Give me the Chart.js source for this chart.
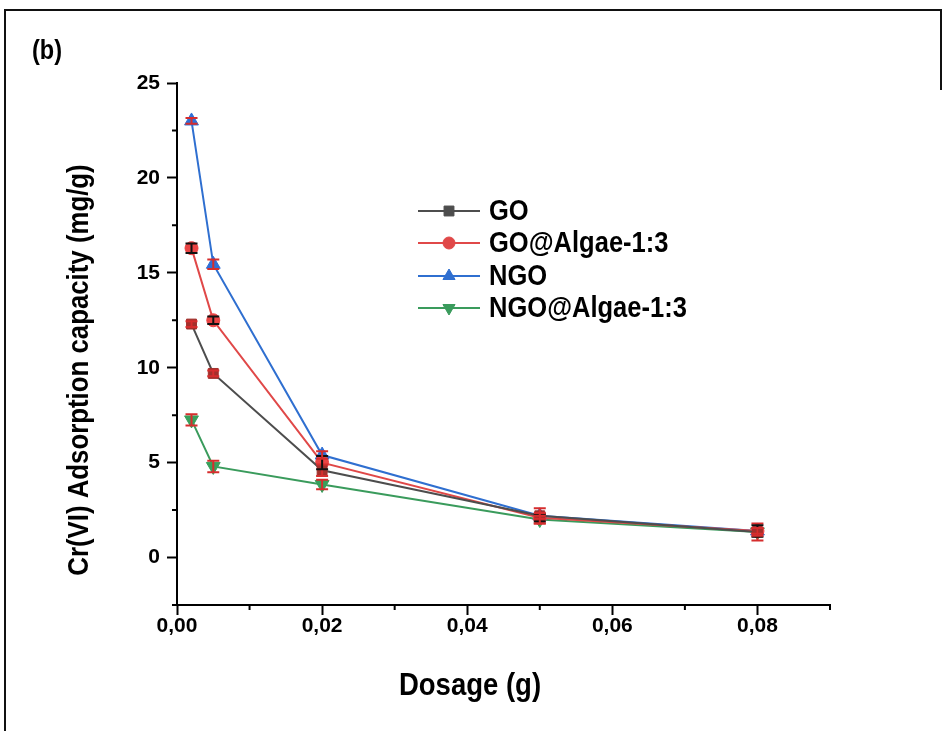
<!DOCTYPE html>
<html>
<head>
<meta charset="utf-8">
<title>Cr(VI) adsorption vs dosage</title>
<script src="https://cdn.jsdelivr.net/npm/chart.js@4.4.1/dist/chart.umd.min.js"></script>
<style>
  html, body { margin: 0; padding: 0; background: #fff; }
  #wrap { width: 947px; height: 731px; }
</style>
</head>
<body>
<div id="wrap"><canvas id="myChart" width="947" height="731"></canvas></div>
<script>
// adsorbent dosage (g)
const dosage = [0.002, 0.005, 0.02, 0.05, 0.08];

// adsorption capacity (mg/g) and error bars per sample
const goValues = [12.3, 9.7, 4.6, 2.2, 1.35];
const goErrors = [0.15, 0.15, 0.3, 0.4, 0.45];
const goAlgaeValues = [16.3, 12.5, 5.0, 2.1, 1.4];
const goAlgaeErrors = [0.25, 0.2, 0.35, 0.2, 0.3];
const ngoValues = [23.0, 15.45, 5.4, 2.2, 1.4];
const ngoErrors = [0.15, 0.25, 0.2, 0.15, 0.15];
const ngoAlgaeValues = [7.25, 4.8, 3.85, 2.0, 1.35];
const ngoAlgaeErrors = [0.3, 0.3, 0.25, 0.2, 0.2];

const seriesNames = ['GO', 'GO@Algae-1:3', 'NGO', 'NGO@Algae-1:3'];
const xTicks = [0, 0.01, 0.02, 0.03, 0.04, 0.05, 0.06, 0.07, 0.08, 0.09];
const yTicks = [-2.5, 0, 2.5, 5, 7.5, 10, 12.5, 15, 17.5, 20, 22.5, 25];

const FONT = "'Liberation Sans', Arial, sans-serif";

function toPoints(values) {
    return dosage.map((d, i) => ({ x: d, y: values[i] }));
}

function makeSet(label, values, errors, color, markerFill, style, rotation, radius, errColor) {
    return {
        label: label,
        data: toPoints(values),
        errors: errors,
        errColor: errColor,
        borderColor: color,
        borderWidth: 2,
        pointStyle: style,
        rotation: rotation,
        pointRadius: radius,
        pointHoverRadius: radius,
        pointBackgroundColor: markerFill,
        pointBorderColor: markerFill,
        pointBorderWidth: 1,
        tension: 0,
        fill: false
    };
}

const datasets = [
    makeSet(seriesNames[0], goValues, goErrors, '#4d4d4d', '#a3302c', 'rect', 0, 7, '#d62d2d'),
    makeSet(seriesNames[1], goAlgaeValues, goAlgaeErrors, '#e04848', '#ea4444', 'circle', 0, 6.5, '#111'),
    makeSet(seriesNames[2], ngoValues, ngoErrors, '#2f6fd0', '#2f6fd6', 'triangle', 0, 8, '#d62d2d'),
    makeSet(seriesNames[3], ngoAlgaeValues, ngoAlgaeErrors, '#3a9b5c', '#38a05c', 'triangle', 180, 8, '#d62d2d')
];

function isMinorX(v) { return Math.round(v * 100) % 2 !== 0; }
function isMinorY(v) { return Math.abs(v % 5) > 1e-9; }

// bold text squeezed horizontally (narrow face look)
function narrowText(ctx, text, x, y, size, squeeze, align) {
    ctx.save();
    ctx.translate(x, y);
    ctx.scale(squeeze, 1);
    ctx.font = 'bold ' + size + 'px ' + FONT;
    ctx.textAlign = align;
    ctx.textBaseline = 'middle';
    ctx.fillText(text, 0, 0);
    ctx.restore();
}

// white background, frame and "(b)" tag
const backdrop = {
    id: 'backdrop',
    beforeDraw(chart) {
        const ctx = chart.ctx;
        ctx.save();
        ctx.fillStyle = '#fff';
        ctx.fillRect(0, 0, chart.width, chart.height);
        ctx.strokeStyle = '#111';
        ctx.lineWidth = 2;
        ctx.beginPath();
        ctx.moveTo(5, chart.height);
        ctx.lineTo(5, 10);
        ctx.lineTo(941, 10);
        ctx.lineTo(941, 90);
        ctx.stroke();
        ctx.fillStyle = '#000';
        narrowText(ctx, '(b)', 32, 51, 28, 0.84, 'left');
        ctx.restore();
    }
};

// error bars, minor ticks, axis titles and legend
const extras = {
    id: 'extras',
    afterDatasetsDraw(chart) {
        const ctx = chart.ctx;
        const xs = chart.scales.x;
        const ys = chart.scales.y;
        ctx.save();
        ctx.lineWidth = 2;
        chart.data.datasets.forEach(ds => {
            ctx.strokeStyle = ds.errColor;
            ds.data.forEach((p, i) => {
                const e = ds.errors[i];
                const px = xs.getPixelForValue(p.x);
                const top = ys.getPixelForValue(p.y + e);
                const bot = ys.getPixelForValue(p.y - e);
                ctx.beginPath();
                ctx.moveTo(px, top);
                ctx.lineTo(px, bot);
                ctx.moveTo(px - 6, top);
                ctx.lineTo(px + 6, top);
                ctx.moveTo(px - 6, bot);
                ctx.lineTo(px + 6, bot);
                ctx.stroke();
            });
        });
        ctx.restore();
    },
    afterDraw(chart) {
        const ctx = chart.ctx;
        const xs = chart.scales.x;
        const ys = chart.scales.y;
        const area = chart.chartArea;
        ctx.save();

        // short minor ticks
        ctx.strokeStyle = '#000';
        ctx.lineWidth = 2;
        ctx.beginPath();
        xTicks.filter(isMinorX).forEach(v => {
            const px = xs.getPixelForValue(v);
            ctx.moveTo(px, area.bottom);
            ctx.lineTo(px, area.bottom + 5);
        });
        yTicks.filter(isMinorY).forEach(v => {
            const py = ys.getPixelForValue(v);
            ctx.moveTo(area.left, py);
            ctx.lineTo(area.left - 5, py);
        });
        ctx.stroke();

        // axis titles
        ctx.fillStyle = '#000';
        narrowText(ctx, 'Dosage (g)', 470, 686, 32, 0.86, 'center');
        ctx.save();
        ctx.translate(80, 370);
        ctx.rotate(-Math.PI / 2);
        narrowText(ctx, 'Cr(VI) Adsorption capacity (mg/g)', 0, 0, 30, 0.86, 'center');
        ctx.restore();

        // legend
        const rowY = [211, 243, 276, 308];
        chart.data.datasets.forEach((ds, i) => {
            const y = rowY[i];
            ctx.strokeStyle = ds.borderColor;
            ctx.lineWidth = 2;
            ctx.beginPath();
            ctx.moveTo(418, y);
            ctx.lineTo(480, y);
            ctx.stroke();
            ctx.fillStyle = ds.borderColor;
            ctx.strokeStyle = ds.borderColor;
            ctx.lineWidth = 1;
            Chart.helpers.drawPoint(ctx, {
                pointStyle: ds.pointStyle,
                rotation: ds.rotation,
                radius: ds.pointStyle === 'circle' ? 6 : 7,
                borderWidth: 1
            }, 449, y);
            ctx.fillStyle = '#000';
            narrowText(ctx, ds.label, 489, y + 1, 29, 0.88, 'left');
        });
        ctx.restore();
    }
};

const ctx = document.getElementById('myChart');

const myChart = new Chart(ctx, {
    type: 'line',
    data: { datasets: datasets },
    plugins: [backdrop, extras],
    options: {
        responsive: false,
        animation: false,
        devicePixelRatio: 1,
        layout: { padding: { top: 83, right: 117, bottom: 0, left: 0 } },
        plugins: {
            legend: { display: false },
            tooltip: { enabled: false }
        },
        scales: {
            x: {
                type: 'linear',
                min: 0,
                max: 0.09,
                afterBuildTicks: scale => {
                    scale.ticks = xTicks.map(v => ({ value: v }));
                },
                afterFit: scale => { scale.height = 126; },
                ticks: {
                    autoSkip: false,
                    maxRotation: 0,
                    padding: 1,
                    color: '#000',
                    font: { family: FONT, size: 21, weight: 'bold', lineHeight: 1.0 },
                    callback: v => isMinorX(v) ? '' : v.toFixed(2).replace('.', ',')
                },
                grid: {
                    drawOnChartArea: false,
                    drawTicks: true,
                    tickLength: 10,
                    tickWidth: 2,
                    tickColor: c => (c.tick && isMinorX(c.tick.value)) ? 'rgba(0,0,0,0)' : '#000'
                },
                border: { display: true, color: '#000', width: 2 }
            },
            y: {
                type: 'linear',
                min: -2.5,
                max: 25,
                afterBuildTicks: scale => {
                    scale.ticks = yTicks.map(v => ({ value: v }));
                },
                afterFit: scale => { scale.width = 177; },
                ticks: {
                    autoSkip: false,
                    padding: 7,
                    color: '#000',
                    font: { family: FONT, size: 21, weight: 'bold' },
                    callback: v => isMinorY(v) ? '' : String(v)
                },
                grid: {
                    drawOnChartArea: false,
                    drawTicks: true,
                    tickLength: 10,
                    tickWidth: 2,
                    tickColor: c => (c.tick && isMinorY(c.tick.value)) ? 'rgba(0,0,0,0)' : '#000'
                },
                border: { display: true, color: '#000', width: 2 }
            }
        }
    }
});
</script>
</body>
</html>
